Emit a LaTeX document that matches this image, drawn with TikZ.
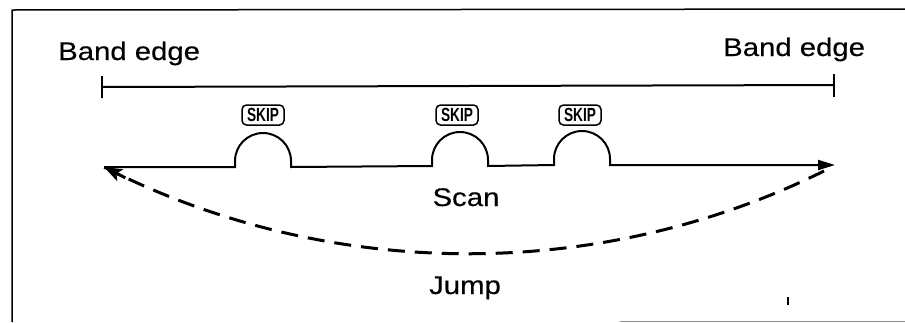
\documentclass[tikz,border=0pt]{standalone}
\usepackage{fontspec}
\setmainfont{Liberation Sans}
\newfontfamily\lblfont[FakeBold=0.3]{Liberation Sans}
\usetikzlibrary{arrows.meta,calc}
\newcommand\lbl[1]{\scalebox{1.15}[1]{#1}}
\newcommand\skiptxt{\scalebox{0.72}[1]{\fontsize{19}{20}\selectfont\bfseries SKIP}}
\tikzset{
  label text/.style={inner sep=0pt, font=\fontsize{25.5}{30}\selectfont\lblfont},
  skipbox/.style={draw, line width=1.5pt, rounded corners=4.5pt, minimum width=42pt, minimum height=20pt, inner sep=0pt},
  scanline/.style={line width=2pt, -{Triangle[length=17pt,width=10pt]}},
  bandline/.style={line width=2pt},
  jumpline/.style={line width=3pt, dash pattern=on 17pt off 10pt},
  jumptip/.style={line width=3pt, solid, -{Stealth[length=18pt,width=13pt,inset=4pt]}},
  framerule/.style={line width=1.5pt}
}
\begin{document}
\begin{tikzpicture}[x=1pt,y=-1pt]
\useasboundingbox (0,0) rectangle (905,322);
% frame
\draw[framerule] (12,322) -- (12,10) -- (905,9);
\draw[line width=1pt, black!45] (620,321) -- (905,321);
% band edges
\node[label text, anchor=base west] (bl) at (58,60) {\lbl{Band edge}};
\node[label text, anchor=base west] (br) at (723,56) {\lbl{Band edge}};
\coordinate (ebl) at (102,87);
\coordinate (ebr) at (834,85);
\draw[bandline] (ebl) -- (ebr);
\draw[bandline] ([yshift=-11pt]ebl) -- ([yshift=11pt]ebl);
\draw[bandline] ([yshift=-12pt]ebr) -- ([yshift=11pt]ebr);
% skip labels
\node[skipbox] (s1) at (263,115) {\skiptxt};
\node[skipbox] (s2) at (457,115) {\skiptxt};
\node[skipbox] (s3) at (580,115) {\skiptxt};
% scan line with bumps
\coordinate (L) at (104,167);
\coordinate (R) at (835,165);
\draw[scanline] (L) -- (235,167) -- (235,161) arc[start angle=180,end angle=0,radius=28pt] -- (291,167)
  -- (432,166) -- (432,160) arc[start angle=180,end angle=0,radius=28pt] -- (488,166)
  -- (554,165) -- (554,159) arc[start angle=180,end angle=0,radius=28pt] -- (610,165)
  -- (R);
\node[label text, anchor=base] (scan) at (466,206) {\lbl{Scan}};
% jump
\coordinate (J0) at (824,171);
\coordinate (JC) at (330,282);
\coordinate (JT) at ($(L)!24pt!(JC)$);
\draw[jumpline] (J0) .. controls (600,282) and (JC) .. (L);
\draw[jumptip] (JT) -- (L);
\node[label text, anchor=base] (jump) at (465,294) {\lbl{Jump}};
% stray mark
\draw[line width=2pt] (788,297) -- (788,305);
\end{tikzpicture}
\end{document}
